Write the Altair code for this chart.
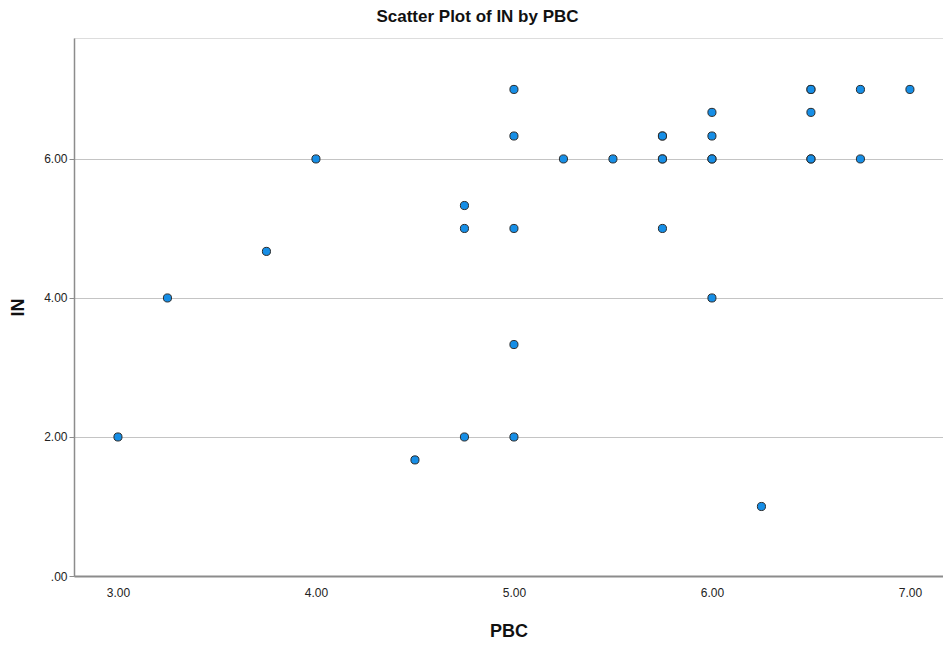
import altair as alt
import pandas as pd

pbc = [3.00, 3.25, 3.75, 4.00, 4.50, 4.75, 4.75, 4.75, 5.00, 5.00, 5.00, 5.00, 5.00,
       5.25, 5.50, 5.75, 5.75, 5.75, 5.75, 5.75, 6.00, 6.00, 6.00, 6.00, 6.00, 6.25,
       6.50, 6.50, 6.50, 6.50, 6.50, 6.75, 6.75, 7.00]
in_ = [2.00, 4.00, 4.67, 6.00, 1.67, 5.33, 5.00, 2.00, 7.00, 6.33, 5.00, 3.33, 2.00,
       6.00, 6.00, 6.33, 6.33, 6.00, 6.00, 5.00, 6.67, 6.33, 6.00, 6.00, 4.00, 1.00,
       7.00, 7.00, 6.67, 6.00, 6.00, 7.00, 6.00, 7.00]

x_ticks = [3, 4, 5, 6, 7]
y_ticks = [0, 2, 4, 6]

df = pd.DataFrame({"PBC": pbc, "IN": in_})

FONT = "Liberation Sans Narrow, Liberation Sans, Arial, sans-serif"

chart = alt.Chart(df).mark_point(
    filled=True, shape="circle", size=66, fill="#168ee6", stroke="#2b2b2b",
    strokeWidth=1, opacity=1
).encode(
    x=alt.X("PBC:Q",
            scale=alt.Scale(domain=[2.778, 7.167], nice=False, zero=False),
            axis=alt.Axis(values=x_ticks, format=".2f", grid=False, ticks=False,
                          domainColor="#8c8c8c", domainWidth=2,
                          labelFont=FONT, labelFontSize=12, labelColor="#222",
                          labelPadding=11, title="PBC", titleFont=FONT,
                          titleFontSize=18, titleFontWeight="bold", titleColor="#111",
                          titlePadding=24)),
    y=alt.Y("IN:Q",
            scale=alt.Scale(domain=[0, 7.74], nice=False, zero=True),
            axis=alt.Axis(values=y_ticks,
                          labelExpr="datum.value == 0 ? '.00' : format(datum.value, '.2f')",
                          grid=True, gridColor="#c4c4c4", gridWidth=1.2,
                          ticks=True, tickSize=5, tickColor="#8c8c8c",
                          domainColor="#8c8c8c", domainWidth=1.5,
                          labelFont=FONT, labelFontSize=12, labelColor="#222",
                          labelPadding=2, title="IN", titleFont=FONT,
                          titleFontSize=18, titleFontWeight="bold", titleColor="#111",
                          titlePadding=16)),
).properties(
    width=869, height=538,
    padding={"left": 74, "top": 38, "right": 0, "bottom": 69},
    autosize=alt.AutoSizeParams(type="none"),
    title=alt.TitleParams("Scatter Plot of IN by PBC", font=FONT, fontSize=17,
                          fontWeight="bold", color="#111", anchor="middle",
                          dx=-31, offset=12),
).configure_view(stroke=None).configure(background="white")

chart.save("out.html", embed_options={"renderer": "svg", "actions": False})
